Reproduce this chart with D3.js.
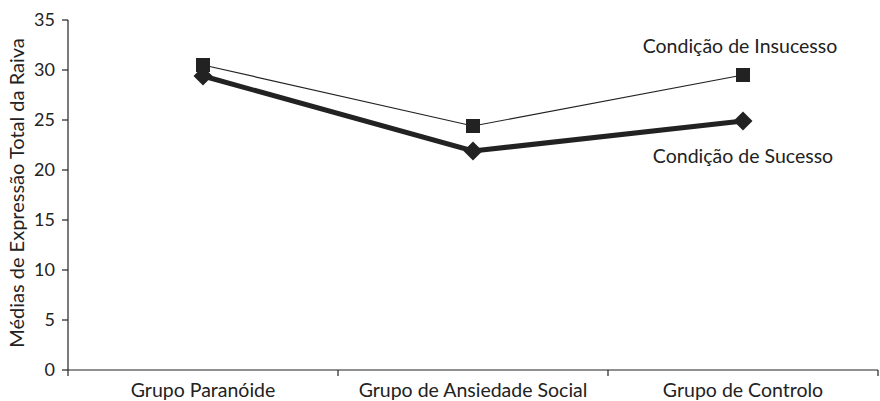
<!DOCTYPE html>
<html><head><meta charset="utf-8">
<script src="https://cdn.jsdelivr.net/npm/d3@7"></script>
<style>body{margin:0;background:#fff}svg{display:block}text{font-family:Lato,"Open Sans",sans-serif;fill:#222}</style>
</head><body><svg id="c" width="880" height="401"></svg>
<script>
const categories = ["Grupo Paranóide", "Grupo de Ansiedade Social", "Grupo de Controlo"];
const insucesso = [30.5, 24.4, 29.5];
const sucesso = [29.4, 21.9, 24.9];
const yTicks = [0, 5, 10, 15, 20, 25, 30, 35];
const seriesLabels = ["Condição de Insucesso", "Condição de Sucesso"];
const yTitle = "Médias de Expressão Total da Raiva";

const svg = d3.select("#c");
const mLeft = 68, mRight = 878, mTop = 20, mBottom = 370;
const x = d3.scaleBand().domain(categories).range([mLeft, mRight]);
const y = d3.scaleLinear().domain([0, 35]).range([mBottom, mTop]);
const cx = c => x(c) + x.bandwidth() / 2;

// x axis
const gx = svg.append("g").attr("transform", `translate(0,${mBottom})`);
gx.append("line").attr("x1", mLeft).attr("x2", mRight).attr("stroke", "#222").attr("stroke-width", 1.2);
const xTickPos = [mLeft].concat(categories.map(c => x(c) + x.bandwidth()));
gx.selectAll("line.t").data(xTickPos).join("line").attr("class","t")
  .attr("x1", d => d).attr("x2", d => d).attr("y1", 0).attr("y2", 6).attr("stroke", "#222").attr("stroke-width", 1.2);
gx.selectAll("text").data(categories).join("text")
  .attr("x", d => cx(d)).attr("y", 27).attr("text-anchor", "middle").attr("font-size", 19.5).text(d => d);

// y axis
const gy = svg.append("g");
gy.append("line").attr("x1", mLeft).attr("x2", mLeft).attr("y1", mTop).attr("y2", mBottom).attr("stroke", "#222").attr("stroke-width", 1.2);
gy.selectAll("line.t").data(yTicks).join("line").attr("class","t")
  .attr("x1", mLeft - 6).attr("x2", mLeft).attr("y1", d => y(d)).attr("y2", d => y(d)).attr("stroke", "#222").attr("stroke-width", 1.2);
gy.selectAll("text").data(yTicks).join("text")
  .attr("x", mLeft - 13).attr("y", d => y(d)).attr("dy", "0.35em").attr("text-anchor", "end").attr("font-size", 18).text(d => d);

svg.append("text").attr("transform", `translate(24,193) rotate(-90)`).attr("text-anchor", "middle")
  .attr("font-size", 20).text(yTitle);

const line = d3.line().x((d, i) => cx(categories[i])).y(d => y(d));
svg.append("path").datum(insucesso).attr("d", line).attr("fill", "none").attr("stroke", "#222").attr("stroke-width", 1.2);
svg.append("path").datum(sucesso).attr("d", line).attr("fill", "none").attr("stroke", "#222").attr("stroke-width", 5);

svg.selectAll("rect.m").data(insucesso).join("rect").attr("class","m")
  .attr("x", (d, i) => cx(categories[i]) - 7).attr("y", d => y(d) - 7).attr("width", 14).attr("height", 14).attr("fill", "#222");
const dsym = d3.symbol().type(d3.symbolDiamond2).size(230);
svg.selectAll("path.m").data(sucesso).join("path").attr("class","m")
  .attr("transform", (d, i) => `translate(${cx(categories[i])},${y(d)})`).attr("d", dsym).attr("fill", "#222");

svg.append("text").attr("x", cx(categories[2]) - 3).attr("y", y(insucesso[2]) - 22).attr("text-anchor", "middle").attr("font-size", 19.5).text(seriesLabels[0]);
svg.append("text").attr("x", cx(categories[2])).attr("y", y(sucesso[2]) + 42).attr("text-anchor", "middle").attr("font-size", 19.5).text(seriesLabels[1]);
</script></body></html>
